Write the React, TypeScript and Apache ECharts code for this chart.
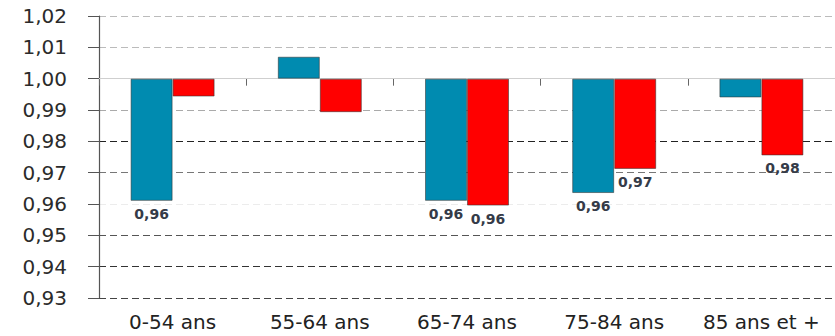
import React, { useEffect, useRef } from "react";
import * as echarts from "echarts";

// Age groups and the two ratio series (reference level = 1,00)
const categories = ["0-54 ans", "55-64 ans", "65-74 ans", "75-84 ans", "85 ans et +"];
const blueValues = [0.961, 1.007, 0.961, 0.9635, 0.994];
const redValues = [0.9943, 0.9893, 0.9595, 0.9712, 0.9755];
const blueLabelShown = [true, false, true, true, false];
const redLabelShown = [false, false, true, true, true];

// Value axis range and step, in ratio units
const axisMin = 0.93;
const axisMax = 1.02;
const axisStep = 0.01;
const baseLevel = 1.0;

// Grid line colours from the bottom tick (0,93) to the top (1,02)
const gridColors = ["#444", "#333", "#555", "#ececec", "#777", "#222", "#aaa", "#cfcfcf", "#bbb", "#bbb"];

const fmt = (v: number) => v.toFixed(2).replace(".", ",");

export default function App() {
  const ref = useRef<HTMLDivElement>(null);

  useEffect(() => {
    document.body.style.margin = "0";
    const chart = echarts.init(ref.current!, undefined, { renderer: "svg" });

    const toItems = (vals: number[], shown: boolean[]) =>
      vals.map((v, i) => ({
        value: +(v - baseLevel).toFixed(5),
        label: { show: shown[i] },
      }));

    const labelStyle = {
      position: "bottom" as const,
      distance: 6,
      color: "#353b48",
      fontFamily: "DejaVu Sans",
      fontWeight: "bold" as const,
      fontSize: 14,
      formatter: (p: any) => fmt((p.value as number) + baseLevel),
    };

    chart.setOption({
      animation: false,
      grid: { left: 99, top: 16, width: 738, height: 282, containLabel: false },
      xAxis: {
        type: "category",
        data: categories,
        boundaryGap: true,
        axisLine: { lineStyle: { color: "#666", width: 1.2 } },
        axisTick: { show: true, length: 7, lineStyle: { color: "#666" } },
        axisLabel: {
          color: "#222",
          fontFamily: "DejaVu Sans",
          fontSize: 20,
          margin: 14,
          interval: 0,
        },
      },
      yAxis: {
        type: "value",
        min: +(axisMin - baseLevel).toFixed(2),
        max: +(axisMax - baseLevel).toFixed(2),
        interval: axisStep,
        axisLine: { show: true, lineStyle: { color: "#555", width: 1.2 } },
        axisTick: { show: true, inside: false, length: 11, lineStyle: { color: "#555" } },
        axisLabel: {
          color: "#2b2b2b",
          fontFamily: "DejaVu Sans",
          fontSize: 20,
          margin: 32,
          formatter: (v: number) => fmt(v + baseLevel),
        },
        splitLine: {
          show: true,
          lineStyle: { color: gridColors, type: [7, 4], width: 1 },
        },
      },
      series: [
        {
          type: "bar",
          data: toItems(blueValues, blueLabelShown),
          barWidth: 42,
          barGap: "0%",
          itemStyle: { color: "#008bb0", borderColor: "rgba(50,50,50,0.55)", borderWidth: 1 },
          label: labelStyle,
          markLine: {
            silent: true,
            symbol: "none",
            label: { show: false },
            lineStyle: { color: "#cfcfcf", type: "solid", width: 1.2 },
            data: [{ yAxis: 0 }],
            z: 1,
          },
        },
        {
          type: "bar",
          data: toItems(redValues, redLabelShown),
          barWidth: 42,
          barGap: "0%",
          itemStyle: { color: "#ff0000", borderColor: "rgba(50,50,50,0.55)", borderWidth: 1 },
          label: labelStyle,
        },
      ],
    });

    return () => chart.dispose();
  }, []);

  return <div ref={ref} style={{ width: 835, height: 336 }} />;
}
